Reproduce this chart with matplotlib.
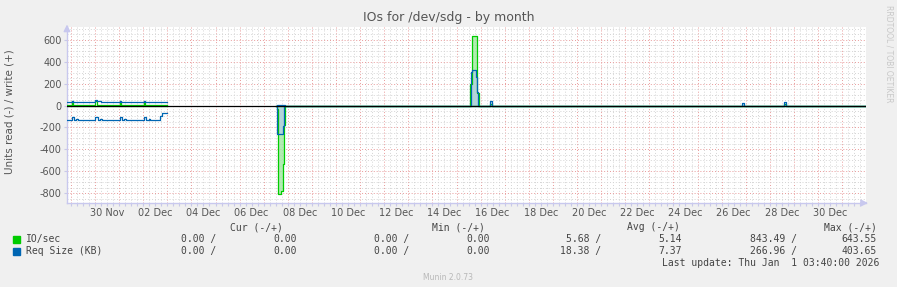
import numpy as np
import pandas as pd
import matplotlib
matplotlib.use("Agg")
import matplotlib.pyplot as plt
import matplotlib.dates as mdates
from matplotlib.patches import Rectangle
from matplotlib.ticker import MultipleLocator

# === Data (days after 30 Nov 2025 00:00; read values are drawn below zero) ===
base = pd.Timestamp("2025-11-30")

io_write_days = [-1.17, -0.97, -0.90, 0.02, 0.09, 1.02, 1.09, 2.02, 2.09, 3.0,
                 7.50, 15.56, 15.64, 15.85, 15.92, 16.40, 16.48, 28.60, 28.68, 32.2]
io_write = [8, 45, 8, 45, 8, 45, 8, 45, 8, np.nan,
            0, 200, 636, 110, 0, 12, 0, 18, 0, 0]

io_read_days = [-1.17, 3.0, 7.50, 7.55, 7.60, 7.72, 7.80, 7.84, 7.88, 32.2]
io_read = [1, np.nan, 0, 30, 803, 780, 530, 180, 0, 0]

rq_write_days = [-1.17, -0.97, -0.90, 0.02, 0.10, 0.18, 0.25, 1.02, 1.09, 2.02, 2.09, 3.0,
                 7.50, 7.56, 7.88, 15.56, 15.58, 15.63, 15.79, 15.85, 15.90,
                 16.40, 16.48, 26.86, 26.94, 28.60, 28.68, 32.2]
rq_write = [30, 45, 30, 52, 45, 38, 30, 45, 30, 45, 30, np.nan,
            0, 6, 0, 0, 303, 325, 258, 120, 0,
            40, 0, 25, 0, 35, 0, 0]

rq_read_days = [-1.17, -0.97, -0.87, -0.77, -0.70, 0.02, 0.12, 0.22, 0.29, 1.02, 1.12, 1.22, 1.29,
                2.02, 2.12, 2.22, 2.29, 2.70, 2.76, 3.0,
                7.50, 7.56, 7.79, 7.85, 32.2]
rq_read = [128, 106, 128, 120, 128, 106, 128, 120, 128, 106, 128, 120, 128,
           106, 128, 120, 128, 100, 72, np.nan,
           0, 258, 188, 0, 0]

series_names = ["IO/sec", "Req Size (KB)"]
series_colors = ["#00cc00", "#0066b3"]
fill_colors = ["#9ae69a", "#b4cde6"]
cur_vals = [("0.00 /", "0.00"), ("0.00 /", "0.00")]
min_vals = [("0.00 /", "0.00"), ("0.00 /", "0.00")]
avg_vals = [("5.68 /", "5.14"), ("18.38 /", "7.37")]
max_vals = [("843.49 /", "643.55"), ("266.96 /", "403.65")]
day_labels = ["30 Nov", "02 Dec", "04 Dec", "06 Dec", "08 Dec", "10 Dec", "12 Dec", "14 Dec",
              "16 Dec", "18 Dec", "20 Dec", "22 Dec", "24 Dec", "26 Dec", "28 Dec", "30 Dec"]
label_days = list(range(0, 32, 2))

# === Plot ===
W, H = 897, 287
plt.rcParams["axes.unicode_minus"] = False
fig = plt.figure(figsize=(W / 100, H / 100), dpi=100, facecolor="#f0f0f0")
ax = fig.add_axes([67 / W, (H - 203) / H, (866 - 67) / W, (203 - 27) / H])
ax.set_facecolor("white")


def to_time(days):
    return base + pd.to_timedelta(days, unit="D")


series = [
    (io_read_days, io_read, -1, 0),
    (io_write_days, io_write, 1, 0),
    (rq_read_days, rq_read, -1, 1),
    (rq_write_days, rq_write, 1, 1),
]
for days, vals, sign, k in series:
    t = to_time(days)
    v = sign * np.array(vals, dtype=float)
    mask = (np.array(days) > 5) & ~np.isnan(v)
    ax.fill_between(t, 0, v, where=mask, step="post", color=fill_colors[k],
                    alpha=0.75, lw=0, zorder=2)
for days, vals, sign, k in series:
    t = to_time(days)
    v = sign * np.array(vals, dtype=float)
    ax.plot(t, v, drawstyle="steps-post", color=series_colors[k], lw=0.9, zorder=3)

ax.axhline(0, color="black", lw=0.9, zorder=5)

ax.set_xlim(to_time(-1.162), to_time(31.99))
ax.set_ylim(-888, 715)

ax.xaxis.set_major_locator(mdates.DayLocator())
ax.xaxis.set_minor_locator(mdates.HourLocator(byhour=[6, 12, 18]))
ax.yaxis.set_major_locator(MultipleLocator(200))
ax.yaxis.set_minor_locator(MultipleLocator(50))
ax.set_xticklabels([])
ax.yaxis.set_major_formatter(plt.FuncFormatter(lambda v, p: f"{v:.0f}"))

ax.grid(which="major", color="#e89a9a", linestyle=(0, (1, 2)), lw=0.7, zorder=1)
ax.grid(which="minor", color="#d4d4d4", linestyle=(0, (1, 2)), lw=0.7, zorder=1)
ax.set_axisbelow(True)

ax.tick_params(which="both", axis="both", color="#c8c8e8", length=2, width=0.8,
               labelsize=7, labelcolor="#555555", pad=2)
ax.tick_params(which="minor", axis="y", length=0)
for s in ["top", "right"]:
    ax.spines[s].set_visible(False)
for s in ["left", "bottom"]:
    ax.spines[s].set_color("#c8c8ee")
    ax.spines[s].set_linewidth(1)

# arrow heads on the axes
ax.annotate("", xy=(0, 1.03), xytext=(0, 0.97), xycoords="axes fraction",
            arrowprops=dict(arrowstyle="-|>", color="#c8c8ee", lw=1), annotation_clip=False)
ax.annotate("", xy=(1.006, 0), xytext=(0.99, 0), xycoords="axes fraction",
            arrowprops=dict(arrowstyle="-|>", color="#c8c8ee", lw=1), annotation_clip=False)

for d, lab in zip(label_days, day_labels):
    ax.text(mdates.date2num(to_time(d + 0.5)), -0.03, lab, transform=ax.get_xaxis_transform(),
            ha="center", va="top", fontsize=7, color="#555555")

fig.text(449 / W, 1 - 18 / H, "IOs for /dev/sdg - by month", ha="center", va="center",
         fontsize=9, color="#555555")
fig.text(10 / W, 1 - 112 / H, "Units read (-) / write (+)", rotation=90, ha="center",
         va="center", fontsize=7.5, color="#555555")
fig.text(889 / W, 1 - 54 / H, "RRDTOOL / TOBI OETIKER", rotation=270, ha="center",
         va="center", fontsize=5.5, color="#c8c8c8")

# legend block
mono = dict(family="DejaVu Sans Mono", fontsize=7, color="#444444", va="center")
for x, txt in [(283, "Cur (-/+)"), (485, "Min (-/+)"), (680, "Avg (-/+)"), (877, "Max (-/+)")]:
    fig.text(x / W, 1 - 227 / H, txt, ha="right", **mono)

cols = [(216, 297, cur_vals), (409, 490, min_vals), (601, 682, avg_vals), (797, 877, max_vals)]
for i, name in enumerate(series_names):
    y = 239 + 12 * i
    fig.add_artist(Rectangle((13 / W, 1 - (y + 4) / H), 7 / W, 7 / H,
                             transform=fig.transFigure, color=series_colors[i]))
    fig.text(26 / W, 1 - y / H, name, ha="left", **mono)
    for x1, x2, vals in cols:
        fig.text(x1 / W, 1 - y / H, vals[i][0], ha="right", **mono)
        fig.text(x2 / W, 1 - y / H, vals[i][1], ha="right", **mono)

fig.text(879 / W, 1 - 263 / H, "Last update: Thu Jan  1 03:40:00 2026", ha="right", **mono)
fig.text(448 / W, 1 - 277 / H, "Munin 2.0.73", ha="center", va="center",
         fontsize=5.5, color="#b8b8b8")

fig.savefig("out.png", dpi=100, facecolor=fig.get_facecolor())
